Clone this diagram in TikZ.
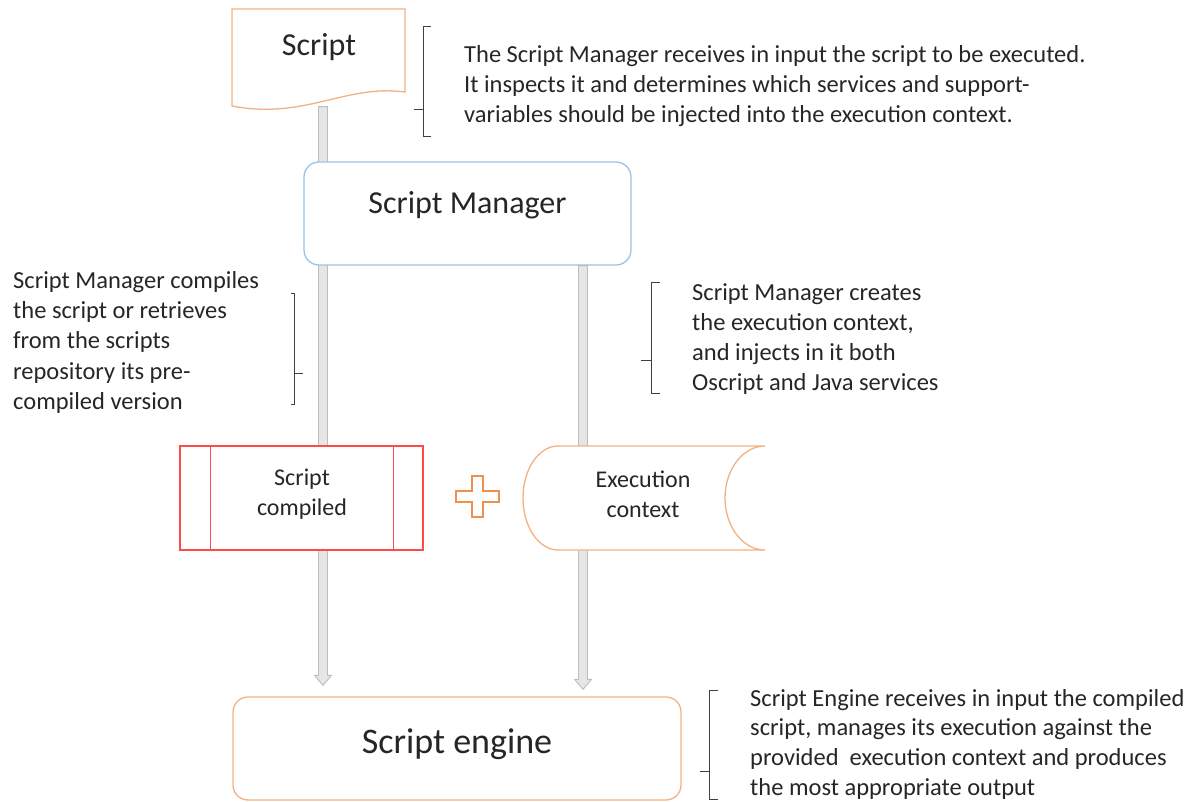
\documentclass[tikz,border=0pt]{standalone}
\usepackage{fontspec}
\setmainfont{Carlito}
\usetikzlibrary{backgrounds}
\definecolor{orng}{HTML}{F4B183}
\definecolor{orngdark}{HTML}{F0904F}
\definecolor{bluebd}{HTML}{9DC3E6}
\definecolor{redbd}{HTML}{FF4A4A}
\definecolor{txt}{HTML}{262626}
\definecolor{arrbd}{HTML}{BDBDBD}
\definecolor{arrfill}{HTML}{E6E6E6}
\tikzset{
  note/.style={anchor=north west, inner sep=0pt, align=left, text=txt,
    font=\fontsize{24.5}{30.3}\selectfont},
  boxtext/.style={inner sep=0pt, align=center, text=txt,
    font=\fontsize{24}{30}\selectfont},
  bigtitle/.style={inner sep=0pt, text=txt},
  roundbox/.style={rounded corners=15pt, line width=1.3pt, fill=white, inner sep=0pt},
  blankbox/.style={inner sep=0pt, draw=none},
  arrowpoly/.style={draw=arrbd, fill=arrfill, line width=0.9pt, line join=miter},
  bracepath/.style={draw=black!75, line width=1pt},
}
\begin{document}
\begin{tikzpicture}[x=1pt,y=-1pt]
\useasboundingbox (0,0) rectangle (1196,802);

% Script document shape
\filldraw[draw=orng, fill=white, line width=1.3pt]
  (232,9) -- (405,9) -- (405,92)
  .. controls (345,84) and (305,120) .. (232,106) -- cycle;
\node[blankbox, minimum width=173pt, minimum height=97pt] (script) at (318.5,58) {};
\node[bigtitle, font=\fontsize{32}{38}\selectfont] (scripttext) at (319,47) {Script};

% Script Manager
\node[roundbox, draw=bluebd, minimum width=327pt, minimum height=103pt] (sm) at (467.5,213.5) {};
\node[bigtitle, font=\fontsize{32}{38}\selectfont] (smtext) at (467.5,205) {Script Manager};

% Script compiled (predefined process)
\node[draw=redbd, fill=white, line width=1.3pt, inner sep=0pt,
      minimum width=243pt, minimum height=104pt] (comp) at (301.5,498) {};
\draw[draw=redbd, line width=1.2pt] ([xshift=31pt]comp.north west) -- ([xshift=31pt]comp.south west);
\draw[draw=redbd, line width=1.2pt] ([xshift=-30pt]comp.north east) -- ([xshift=-30pt]comp.south east);
\node[boxtext] (comptext) at (302,494) {Script\\compiled};

% Plus sign
\draw[draw=orngdark, line width=1.2pt, fill=white]
  (472,476) -- (483,476) -- (483,491) -- (499,491) -- (499,502) -- (483,502)
  -- (483,517) -- (472,517) -- (472,502) -- (456,502) -- (456,491) -- (472,491) -- cycle;

% Execution context (stored data)
\filldraw[draw=orng, fill=white, line width=1.3pt]
  (558,446) -- (765,446)
  .. controls (743,446) and (725,469.3) .. (725,498)
  .. controls (725,526.7) and (743,550) .. (765,550)
  -- (558,550)
  .. controls (538.7,550) and (523,526.7) .. (523,498)
  .. controls (523,469.3) and (538.7,446) .. (558,446) -- cycle;
\node[blankbox, minimum width=242pt, minimum height=104pt] (exec) at (644,498) {};
\node[boxtext] (exectext) at (643,494) {Execution\\context};

% Script engine
\node[roundbox, draw=orng, minimum width=448pt, minimum height=103pt] (engine) at (457,748.5) {};
\node[bigtitle, font=\fontsize{36}{42}\selectfont] (enginetext) at (457,744) {Script engine};

% Arrows (behind)
\coordinate (a1s) at ([xshift=4.5pt]script.south);
\coordinate (a1e) at ([yshift=11pt]a1s |- engine.north);
\coordinate (a2s) at ([xshift=115.5pt]sm.south);
\coordinate (a2e) at ([yshift=7pt]a2s |- engine.north);
\begin{pgfonlayer}{background}
\draw[arrowpoly] ([xshift=-4.5pt]a1s) -- ([xshift=-4.5pt,yshift=10pt]a1e) -- ([xshift=-8.5pt,yshift=10pt]a1e)
  -- (a1e) -- ([xshift=8.5pt,yshift=10pt]a1e) -- ([xshift=4.5pt,yshift=10pt]a1e) -- ([xshift=4.5pt]a1s) -- cycle;
\draw[arrowpoly] ([xshift=-4.5pt]a2s) -- ([xshift=-4.5pt,yshift=10pt]a2e) -- ([xshift=-8.5pt,yshift=10pt]a2e)
  -- (a2e) -- ([xshift=8.5pt,yshift=10pt]a2e) -- ([xshift=4.5pt,yshift=10pt]a2e) -- ([xshift=4.5pt]a2s) -- cycle;
\end{pgfonlayer}

% Braces
\draw[bracepath] (431,27) -- (423,27) -- (423,137) -- (431,137);
\draw[bracepath] (423,110) -- (414,110);
\draw[bracepath] (291,293) -- (294,293) -- (294,404) -- (291,404);
\draw[bracepath] (294,373) -- (303,373);
\draw[bracepath] (660,282) -- (651,282) -- (651,393) -- (660,393);
\draw[bracepath] (651,360) -- (641,360);
\draw[bracepath] (718,690) -- (709,690) -- (709,799) -- (718,799);
\draw[bracepath] (709,771) -- (700,771);

% Notes
\node[note] (n1) at (464,45) {The Script Manager receives in input the script to be executed.\\
It inspects it and determines which services and support-\\
variables should be injected into the execution context.};
\node[note] (n2) at (13,271) {Script Manager compiles\\the script or retrieves\\from the scripts\\repository its pre-\\compiled version};
\node[note] (n3) at (692,283) {Script Manager creates\\the execution context,\\and injects in it both\\Oscript and Java services};
\node[note, font=\fontsize{24.5}{29.6}\selectfont] (n4) at (750,689) {Script Engine receives in input the compiled\\
script, manages its execution against the\\
provided~ execution context and produces\\
the most appropriate output};
\end{tikzpicture}
\end{document}
